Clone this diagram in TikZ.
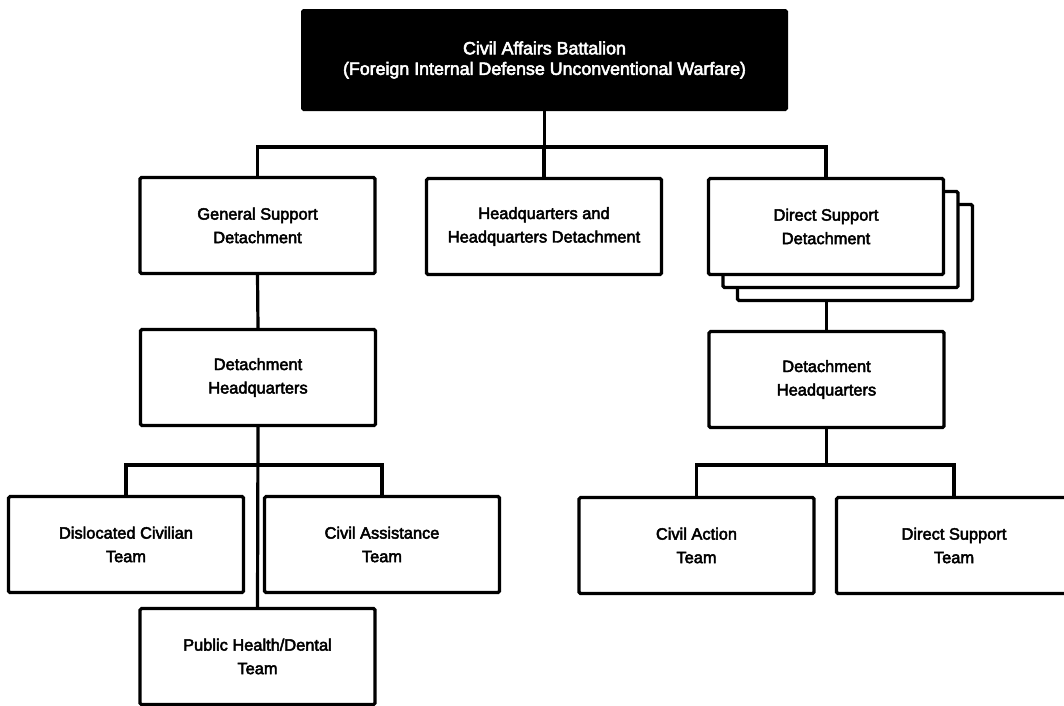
\documentclass[tikz,border=0pt]{standalone}
\usepackage{fontspec}
\setmainfont{Liberation Sans}
\newfontfamily\chartfont{Liberation Sans}[FakeBold=3]
\begin{document}
\begin{tikzpicture}[x=1pt,y=-1pt,
  unitbox/.style={draw=black,line width=3.2pt,fill=white,rounded corners=1.5pt,
    minimum width=235pt,minimum height=96pt,inner sep=0pt,align=center,
    font=\chartfont\fontsize{16.4}{23.5}\selectfont},
  headbox/.style={draw=black,line width=2pt,fill=black,text=white,rounded corners=1.5pt,
    minimum width=485pt,minimum height=100pt,inner sep=0pt,align=center,
    font=\chartfont\fontsize{17.8}{20.5}\selectfont},
  link/.style={draw=black,line width=3.2pt}]
  \fill[white] (0,0) rectangle (1064,705);
  \clip (0,0) rectangle (1064,705);
  \useasboundingbox (0,0) rectangle (1064,705);

  % battalion
  \node[headbox] (bn) at (544.5,60) {Civil Affairs Battalion\\(Foreign Internal Defense Unconventional Warfare)};

  % detachments
  \node[unitbox] (gsd) at (257.5,225.5) {General Support\\Detachment};
  \node[unitbox] (hhd) at (544,226.5) {Headquarters and\\Headquarters Detachment};
  \node[unitbox] (dsdc) at (855,252.5) {};
  \node[unitbox] (dsdb) at (840.5,239.5) {};
  \node[unitbox] (dsd) at (826,226.5) {Direct Support\\Detachment};

  % detachment headquarters
  \node[unitbox] (dhl) at (258,377.5) {Detachment\\Headquarters};
  \node[unitbox] (dhr) at (826.5,379.5) {Detachment\\Headquarters};

  % teams
  \node[unitbox] (dct) at (126,544.5) {Dislocated Civilian\\Team};
  \node[unitbox] (cat) at (382,544.5) {Civil Assistance\\Team};
  \node[unitbox] (pht) at (257.5,656.5) {Public Health/Dental\\Team};
  \node[unitbox] (cvt) at (696.5,545.5) {Civil Action\\Team};
  \node[unitbox] (dst) at (954,545.5) {Direct Support\\Team};

  % bus levels
  \coordinate (topbus) at (0,147);
  \coordinate (leftbus) at (0,465);
  \coordinate (rightbus) at (0,465);

  % connectors
  \draw[link] (bn.south) -- (bn.south |- topbus);
  \draw[link] (gsd.north) -- (gsd.north |- topbus) -| (dsd.north);
  \draw[link] (hhd.north) -- (hhd.north |- topbus);
  \draw[link] (gsd.south) -- (dhl.north);
  \draw[link] (dhl.south) -- (pht.north);
  \draw[link] (dct.north) -- (dct.north |- leftbus) -| (cat.north);
  \draw[link] (dhr.north) -- (dhr.north |- dsdc.south);
  \draw[link] (dhr.south) -- (dhr.south |- rightbus);
  \draw[link] (cvt.north) -- (cvt.north |- rightbus) -| (dst.north);
\end{tikzpicture}
\end{document}
